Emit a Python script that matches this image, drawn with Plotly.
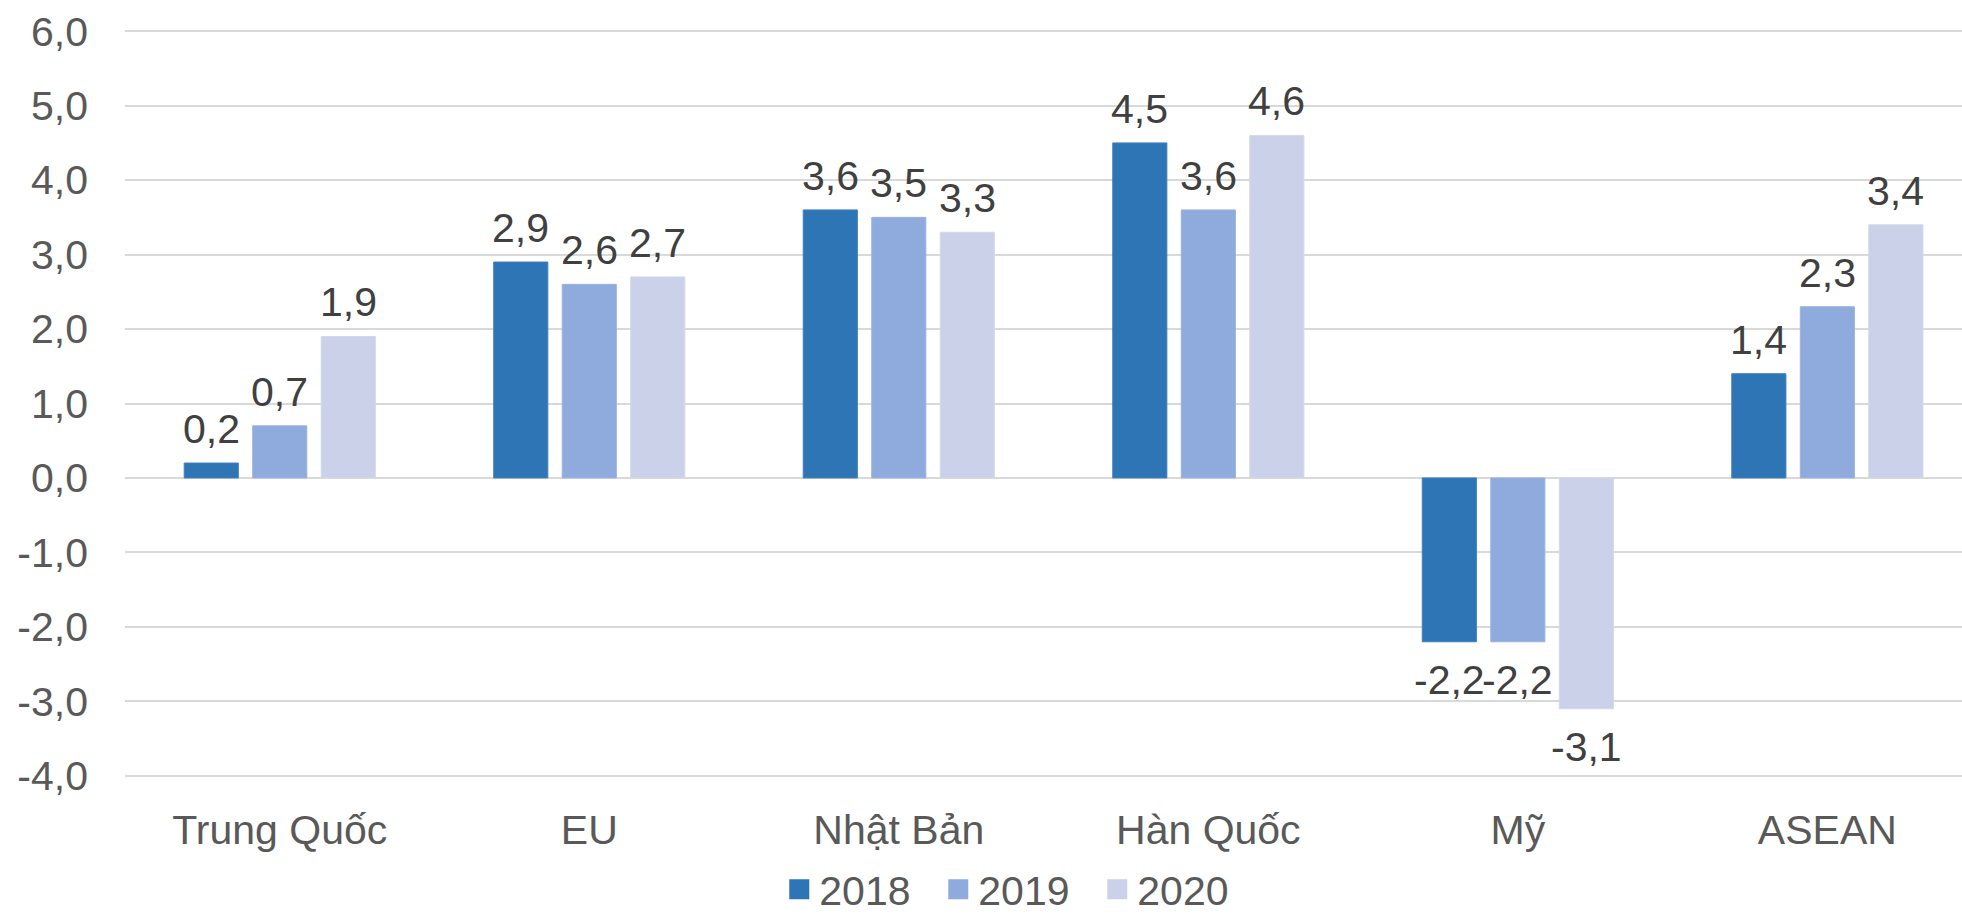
import plotly.graph_objects as go

# Partners and yearly values
categories = ["Trung Quốc", "EU", "Nhật Bản", "Hàn Quốc", "Mỹ", "ASEAN"]
years = ["2018", "2019", "2020"]
values_2018 = [0.2, 2.9, 3.6, 4.5, -2.2, 1.4]
values_2019 = [0.7, 2.6, 3.5, 3.6, -2.2, 2.3]
values_2020 = [1.9, 2.7, 3.3, 4.6, -3.1, 3.4]
y_ticks = [-4, -3, -2, -1, 0, 1, 2, 3, 4, 5, 6]

series = [values_2018, values_2019, values_2020]
colors = ["#2E75B6", "#8FAADC", "#CBD1E8"]
edge_colors = ["#3D7FBD", "#9BB3E0", "#D3D8EC"]

FONT = "Liberation Sans, Arial, sans-serif"
FS = 41
BARGAP = 0.336


def fmt(v):
    return f"{v:.1f}".replace(".", ",")


fig = go.Figure()
for name, vals, col, edge in zip(years, series, colors, edge_colors):
    fig.add_trace(go.Bar(
        x=categories,
        y=vals,
        name=name,
        marker=dict(color=col, line=dict(color=edge, width=1)),
        showlegend=False,
    ))
    # legend entry with a larger square swatch
    fig.add_trace(go.Scatter(
        x=[None], y=[None], mode="markers", name=name,
        marker=dict(symbol="square", size=16, color=col,
                    line=dict(color=col, width=4)),
        showlegend=True,
    ))

# value labels above positive bars and below negative bars
slot = (1 - BARGAP) / len(series)
for s, vals in enumerate(series):
    offset = (s - (len(series) - 1) / 2) * slot
    for c, v in enumerate(vals):
        fig.add_annotation(
            x=c + offset, y=v, xref="x", yref="y",
            text=fmt(v), showarrow=False,
            yanchor="bottom" if v >= 0 else "top",
            yshift=9 if v >= 0 else -13,
            font=dict(family=FONT, size=FS, color="#404040"),
        )

fig.update_layout(
    width=1962,
    height=916,
    margin=dict(l=125, r=0, t=29, b=138, autoexpand=False),
    plot_bgcolor="white",
    paper_bgcolor="white",
    barmode="group",
    bargap=BARGAP,
    bargroupgap=0.21,
    font=dict(family=FONT, size=FS, color="#595959"),
    legend=dict(
        orientation="h",
        x=0.486, xanchor="center",
        y=-0.149, yanchor="middle",
        font=dict(family=FONT, size=FS, color="#595959"),
        itemsizing="trace",
        entrywidth=114,
    ),
    xaxis=dict(
        range=[-0.5, 5.435],
        showgrid=False,
        showline=False,
        ticks="",
        automargin=False,
        ticklabelstandoff=24,
        tickfont=dict(family=FONT, size=FS, color="#595959"),
    ),
    yaxis=dict(
        range=[-4.03, 6.03],
        tickvals=y_ticks,
        ticktext=[fmt(v) for v in y_ticks],
        showgrid=True,
        gridcolor="#D9D9D9",
        gridwidth=1.5,
        zeroline=True,
        zerolinecolor="#D9D9D9",
        zerolinewidth=1.5,
        showline=False,
        ticks="",
        automargin=False,
        ticklabelstandoff=36,
        tickfont=dict(family=FONT, size=FS, color="#595959"),
    ),
)

fig.write_html("out.html")
